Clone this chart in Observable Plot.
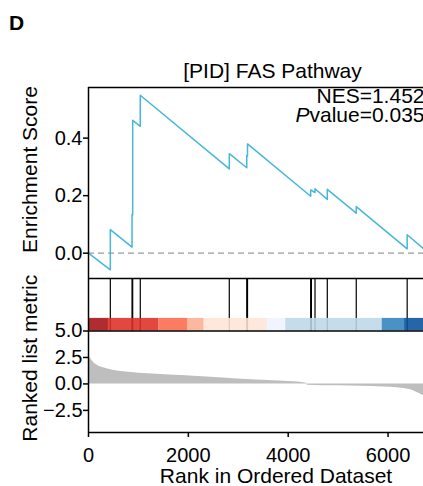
<!DOCTYPE html>
<html><head><meta charset="utf-8">
<script src="https://cdn.jsdelivr.net/npm/d3@7"></script>
<script src="https://cdn.jsdelivr.net/npm/@observablehq/plot@0.6"></script>
<style>
html,body{margin:0;padding:0;background:#fff;overflow:hidden;}
#chart{position:relative;width:423px;height:486px;overflow:hidden;}
#chart svg{position:absolute;left:0;top:0;}
</style></head><body><div id="chart"></div>
<script>
// ---- texts ----
const panelLabel = "D";
const titleText = "[PID] FAS Pathway";
const nesText = "NES=1.452";
const pvalText = "Pvalue=0.035";
const esAxisTitle = "Enrichment Score";
const metricAxisTitle = "Ranked list metric";
const rankAxisTitle = "Rank in Ordered Dataset";

// ---- running enrichment score (vertices) ----
const esRank  = [0, 437, 437, 872, 872, 885, 885, 1037, 1037, 2820, 2820, 3170, 3170, 3185, 3185, 4450, 4450, 4537, 4537, 4783, 4783, 5363, 5363, 6383, 6383, 6710];
const esValue = [0, -0.058, 0.082, 0.021, 0.135, 0.133, 0.462, 0.441, 0.549, 0.293, 0.346, 0.297, 0.340, 0.338, 0.380, 0.198, 0.220, 0.211, 0.224, 0.187, 0.222, 0.139, 0.162, 0.015, 0.064, 0.016];

// ---- gene-set hits ----
const hitRanks = [437, 872, 885, 1037, 2820, 3170, 3185, 4450, 4465, 4537, 4783, 5363, 6383];

// ---- colour strip ----
const stripStart = [0, 400, 1410, 1983, 2317, 3583, 3950, 5883, 6330];
const stripEnd   = [400, 1410, 1983, 2317, 3583, 3950, 5883, 6330, 6710];
const stripColor = ["#a50f15", "#de2d26", "#fb6a4a", "#fcae91", "#fee5d9", "#eff3ff", "#bdd7e7", "#3182bd", "#08519c"];

// ---- ranked list metric ----
const metricRank  = [0, 40, 83, 150, 283, 483, 750, 1283, 1950, 2617, 3350, 4000, 4370, 4380, 5000, 5917, 6450, 6583, 6710];
const metricValue = [2.75, 2.4, 2.12, 1.84, 1.54, 1.29, 1.12, 0.93, 0.77, 0.58, 0.36, 0.22, 0.06, -0.12, -0.18, -0.29, -0.54, -0.8, -1.12];

// ---- ticks / domains ----
const esTicks = [0, 0.2, 0.4];
const metricTicks = [-2.5, 0, 2.5, 5];
const rankTicks = [0, 2000, 4000, 6000];
const rankDomain = [0, 6710];
const esDomain = [-0.088, 0.576];
const metricDomain = [-4.59, 5.0];
const hitDomain = [0, 1];
const stripTop = 0.24;

// ---- layout ----
const W = 423, H = 486, L = 88;
const esTop = 87, esBottom = 278, hitBottom = 330.5, metricBottom = 432;
const font = "Liberation Sans, Arial, Helvetica, sans-serif";
const baseStyle = {fontFamily: font, fontSize: "20px", background: "none", overflow: "visible", color: "black"};
const lineW = 1.5;

const esData = esRank.map((r, i) => ({rank: r, es: esValue[i]}));
const stripData = stripStart.map((s, i) => ({x1: s, x2: stripEnd[i], fill: stripColor[i]}));
const metricData = metricRank.map((r, i) => ({rank: r, value: metricValue[i]}));
const statsText = nesText + "\n" + pvalText;

// Panel A: enrichment score
const plotA = Plot.plot({
  width: W, height: H,
  marginLeft: L, marginRight: 0, marginTop: esTop, marginBottom: H - esBottom,
  style: baseStyle,
  x: {domain: rankDomain, axis: null, label: null},
  y: {domain: esDomain, label: null},
  marks: [
    Plot.ruleY([0], {stroke: "#9b9b9b", strokeWidth: 1.3, strokeDasharray: "6,4"}),
    Plot.line(esData, {x: "rank", y: "es", stroke: "#46b7d8", strokeWidth: 1.5}),
    Plot.axisY(esTicks, {tickSize: 5, tickPadding: 1, tickFormat: ".1f", label: null, strokeWidth: lineW}),
    Plot.ruleX([rankDomain[0]], {strokeWidth: lineW}),
    Plot.ruleY([esDomain[1]], {strokeWidth: lineW}),
    Plot.ruleY([esDomain[0]], {strokeWidth: lineW}),
    Plot.text([titleText], {text: d => d, frameAnchor: "top", dx: 16.5, dy: -16, fontSize: 21, lineAnchor: "middle"}),
    Plot.text([statsText], {text: d => d, frameAnchor: "top-right", textAnchor: "end", dx: 1, dy: 19.25, fontSize: 21, lineHeight: 0.88, lineAnchor: "middle"}),
    Plot.text([esAxisTitle], {text: d => d, frameAnchor: "left", rotate: -90, dx: -58, dy: -13.5, fontSize: 21, textAnchor: "middle", lineAnchor: "middle"}),
    Plot.text([panelLabel], {text: d => d, frameAnchor: "top-left", dx: -72, dy: -64, fontSize: 21, fontWeight: "bold", textAnchor: "middle", lineAnchor: "middle"})
  ]
});

// italic P in "Pvalue"
const NS = "http://www.w3.org/2000/svg";
for (const t of plotA.querySelectorAll("tspan")) {
  if (t.textContent === pvalText) {
    t.textContent = "";
    const a = document.createElementNS(NS, "tspan");
    a.setAttribute("font-style", "italic");
    a.textContent = pvalText.slice(0, 1);
    t.appendChild(a);
    t.appendChild(document.createTextNode(pvalText.slice(1)));
  }
}

// Panel B: hits + colour strip
const plotB = Plot.plot({
  width: W, height: H,
  marginLeft: L, marginRight: 0, marginTop: esBottom, marginBottom: H - hitBottom,
  style: baseStyle,
  x: {domain: rankDomain, axis: null, label: null},
  y: {domain: hitDomain, axis: null, label: null},
  marks: [
    Plot.ruleX(hitRanks, {x: d => d, y1: hitDomain[0], y2: hitDomain[1], stroke: "black", strokeWidth: 1.2}),
    Plot.rect(stripData, {x1: "x1", x2: "x2", y1: hitDomain[0], y2: stripTop, fill: "fill", fillOpacity: 0.88}),
    Plot.ruleX([rankDomain[0]], {strokeWidth: lineW}),
    Plot.ruleY([hitDomain[0]], {strokeWidth: lineW})
  ]
});

// Panel C: ranked list metric
const plotC = Plot.plot({
  width: W, height: H,
  marginLeft: L, marginRight: 0, marginTop: hitBottom, marginBottom: H - metricBottom,
  style: baseStyle,
  x: {domain: rankDomain, label: null},
  y: {domain: metricDomain, label: null},
  marks: [
    Plot.areaY(metricData, {x: "rank", y: "value", fill: "#bebebe", curve: "monotone-x"}),
    Plot.axisY(metricTicks, {tickSize: 5, tickPadding: 1, tickFormat: ".1f", label: null, strokeWidth: lineW}),
    Plot.axisX(rankTicks, {tickSize: 5, tickPadding: 10, tickFormat: "d", label: null, strokeWidth: lineW}),
    Plot.ruleX([rankDomain[0]], {strokeWidth: lineW}),
    Plot.ruleY([metricDomain[0]], {strokeWidth: lineW}),
    Plot.text([metricAxisTitle], {text: d => d, frameAnchor: "left", rotate: -90, dx: -58, dy: -23.5, fontSize: 21, textAnchor: "middle", lineAnchor: "middle"}),
    Plot.text([rankAxisTitle], {text: d => d, frameAnchor: "bottom", dx: 20, dy: 44, fontSize: 21, lineAnchor: "middle"})
  ]
});

const chart = document.getElementById("chart");
chart.appendChild(plotC);
chart.appendChild(plotB);
chart.appendChild(plotA);
</script>
</body></html>
